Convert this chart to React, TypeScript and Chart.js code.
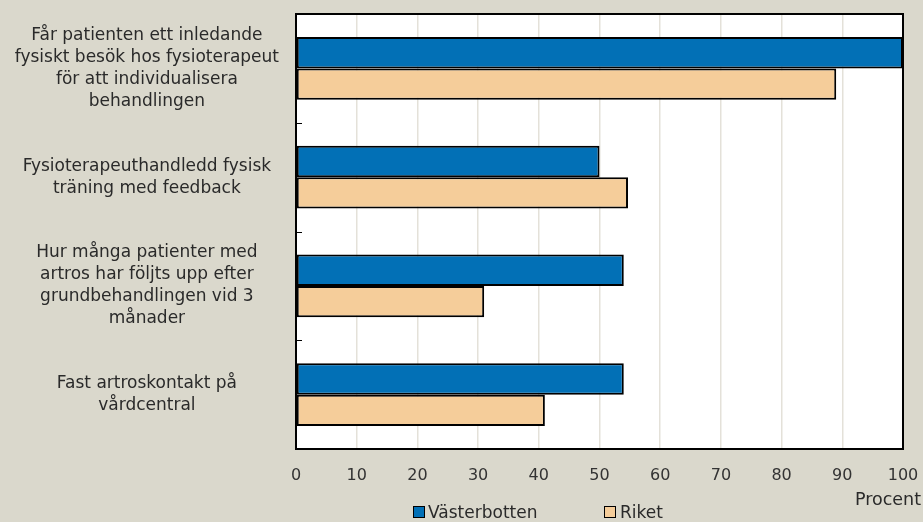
import React, { useEffect, useRef } from "react";
import { Chart, registerables } from "chart.js";

Chart.register(...registerables);

const categories: string[][] = [
  ["Får patienten ett inledande", "fysiskt besök hos fysioterapeut", "för att individualisera", "behandlingen"],
  ["Fysioterapeuthandledd fysisk", "träning med feedback"],
  ["Hur många patienter med", "artros har följts upp efter", "grundbehandlingen vid 3", "månader"],
  ["Fast artroskontakt på", "vårdcentral"],
];
const vasterbotten: number[] = [100, 50, 54, 54];
const riket: number[] = [89, 54.7, 31, 41];
const xTicks: number[] = [0, 10, 20, 30, 40, 50, 60, 70, 80, 90, 100];

const FONT = "DejaVu Sans";
const BG = "#dad8cc";
const BLUE = "#0270b6";
const TAN = "#f5cd9a";

const framePlugin = {
  id: "frame",
  beforeDraw(chart: any) {
    const { ctx, chartArea: a } = chart;
    ctx.save();
    ctx.fillStyle = BG;
    ctx.fillRect(0, 0, chart.width, chart.height);
    ctx.fillStyle = "#ffffff";
    ctx.fillRect(a.left, a.top, a.right - a.left, a.bottom - a.top);
    ctx.restore();
  },
  afterDraw(chart: any) {
    const { ctx, chartArea: a } = chart;
    const y = chart.scales.y;
    ctx.save();
    ctx.strokeStyle = "#000000";
    ctx.lineWidth = 2;
    ctx.strokeRect(a.left, a.top, a.right - a.left, a.bottom - a.top);
    ctx.lineWidth = 1;
    for (let i = 1; i < categories.length; i++) {
      const py = Math.round((y.getPixelForValue(i - 1) + y.getPixelForValue(i)) / 2) + 0.5;
      ctx.beginPath();
      ctx.moveTo(a.left, py);
      ctx.lineTo(a.left + 6, py);
      ctx.stroke();
    }
    ctx.restore();
  },
};

export default function App() {
  const ref = useRef<HTMLCanvasElement | null>(null);
  useEffect(() => {
    document.body.style.margin = "0";
    const chart = new Chart(ref.current as HTMLCanvasElement, {
      type: "bar",
      data: {
        labels: categories,
        datasets: [
          { label: "Västerbotten", data: vasterbotten, backgroundColor: BLUE, borderColor: "#000", borderWidth: 2, borderSkipped: false },
          { label: "Riket", data: riket, backgroundColor: TAN, borderColor: "#000", borderWidth: 2, borderSkipped: false },
        ],
      },
      options: {
        indexAxis: "y",
        animation: false,
        responsive: true,
        maintainAspectRatio: false,
        layout: { padding: { top: 14, right: 20, left: 0, bottom: 0 } },
        datasets: { bar: { categoryPercentage: 0.575, barPercentage: 1 } },
        plugins: { legend: { display: false }, tooltip: { enabled: false } },
        scales: {
          x: {
            min: 0,
            max: 100,
            afterFit: (s: any) => { s.height = 73; s.paddingLeft = 0; s.paddingRight = 0; },
            afterBuildTicks: (s: any) => { s.ticks = xTicks.map((v) => ({ value: v })); },
            grid: { color: "#e4e1d9", lineWidth: 1.5, drawTicks: false },
            border: { display: false },
            ticks: { color: "#333333", padding: 17, font: { family: FONT, size: 16 } },
          },
          y: {
            afterFit: (s: any) => { s.width = 296; s.paddingTop = 0; s.paddingBottom = 0; },
            grid: { display: false, drawTicks: false },
            border: { display: false },
            ticks: { color: "#2a2a2a", padding: 17, crossAlign: "center", font: { family: FONT, size: 17, lineHeight: 1.294 } },
          },
        },
      },
      plugins: [framePlugin],
    });
    return () => chart.destroy();
  }, []);

  const txt: React.CSSProperties = { position: "absolute", fontFamily: FONT, fontSize: 17, color: "#2a2a2a", lineHeight: "20px", whiteSpace: "nowrap" };
  const box = (c: string): React.CSSProperties => ({ position: "absolute", width: 10, height: 10, background: c, border: "1px solid #000" });
  return (
    <div style={{ position: "fixed", left: 0, top: 0, width: 923, height: 522, background: BG, overflow: "hidden" }}>
      <canvas ref={ref} />
      <div style={{ ...txt, fontSize: 17.5, right: 2, top: 489 }}>Procent</div>
      <div style={{ ...box(BLUE), left: 413, top: 506 }} />
      <div style={{ ...txt, left: 428, top: 502 }}>Västerbotten</div>
      <div style={{ ...box(TAN), left: 604, top: 506 }} />
      <div style={{ ...txt, left: 620, top: 502 }}>Riket</div>
    </div>
  );
}
